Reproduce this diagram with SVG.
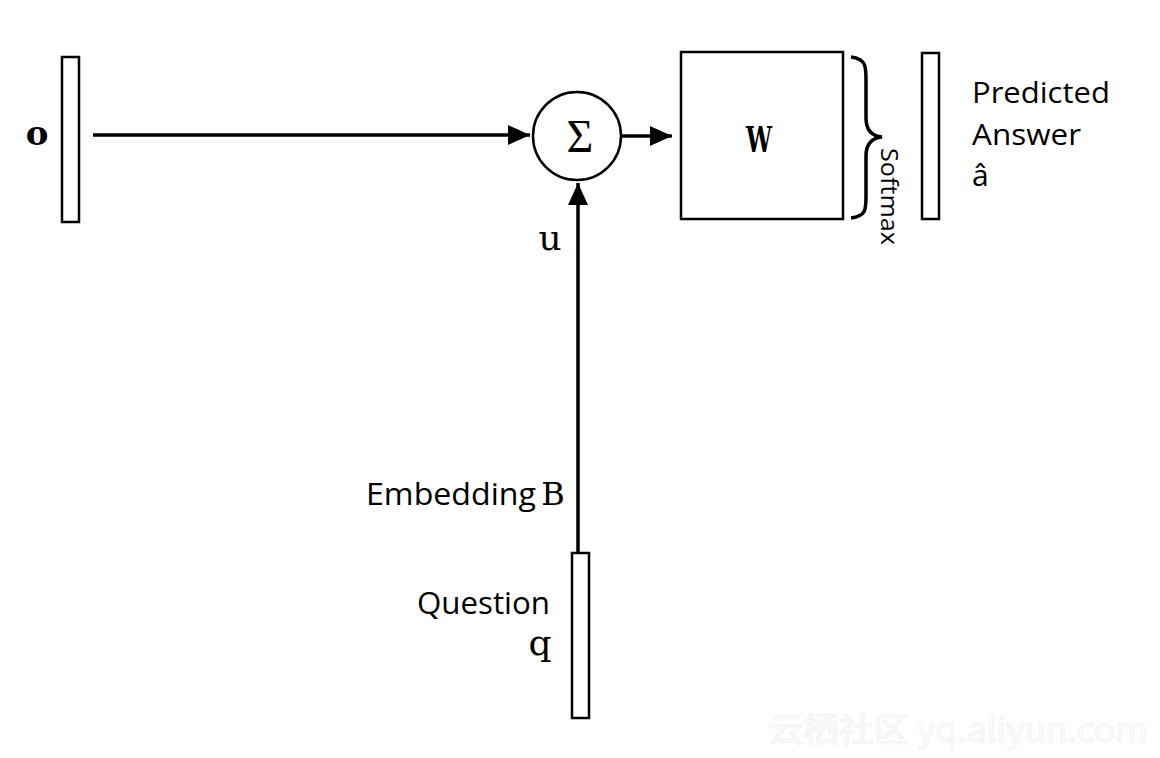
<svg xmlns="http://www.w3.org/2000/svg" width="1160" height="758" viewBox="0 0 1160 758">
<style>
.box{fill:#fff;stroke:#000;stroke-width:2.5}
.ln{fill:none;stroke:#000;stroke-width:3.5}
.sans{font-family:"Open Sans","DejaVu Sans",sans-serif;fill:#000}
.mono{font-family:"DejaVu Serif","Liberation Serif",serif;fill:#000}
</style>
<defs>
<marker id="ah" markerUnits="userSpaceOnUse" markerWidth="24" markerHeight="22" refX="22" refY="10" orient="auto">
<path d="M0,0 L22,10 L0,20 z" fill="#000"/>
</marker>
</defs>
<rect width="1160" height="758" fill="#fff"/>
<g id="connectors">
<line class="ln" x1="93" y1="135" x2="530" y2="135" marker-end="url(#ah)"/>
<line class="ln" x1="621" y1="136" x2="672" y2="136" marker-end="url(#ah)"/>
<line class="ln" x1="578" y1="552" x2="578" y2="183" marker-end="url(#ah)"/>
</g>
<g id="memory-o">
<rect class="box" x="62" y="57" width="17" height="165"/>
<text class="mono" x="37" y="145" font-size="34" font-weight="bold" text-anchor="middle">o</text>
</g>
<g id="sum">
<circle class="box" cx="577" cy="136" r="44"/>
<text x="580" y="152" font-family="Liberation Serif,serif" font-size="46" text-anchor="middle">Σ</text>
</g>
<g id="W">
<rect class="box" x="681" y="52" width="162" height="167"/>
<text class="mono" x="759" y="152" font-size="36" font-weight="bold" text-anchor="middle" textLength="26" lengthAdjust="spacingAndGlyphs">W</text>
</g>
<g id="softmax">
<path class="ln" stroke-width="3" d="M851,57 C866,59 866,66 866,80 L866,118 C866,130 872,136 882,137 C872,138 866,144 866,156 L866,196 C866,210 866,216 851,218"/>
<text class="sans" font-size="24" transform="translate(881,148) rotate(90)" textLength="97" lengthAdjust="spacingAndGlyphs">Softmax</text>
</g>
<g id="answer">
<rect class="box" x="922" y="53" width="17" height="166"/>
<text class="sans" x="972" y="103" font-size="30" textLength="138" lengthAdjust="spacingAndGlyphs">Predicted</text>
<text class="sans" x="972" y="145" font-size="30" textLength="109" lengthAdjust="spacingAndGlyphs">Answer</text>
<text class="sans" x="972" y="186" font-size="30">â</text>
</g>
<g id="u-label">
<text class="mono" x="550" y="250" font-size="36" text-anchor="middle">u</text>
</g>
<g id="embedding">
<text class="sans" x="366" y="505" font-size="31" textLength="170" lengthAdjust="spacingAndGlyphs">Embedding</text>
<text class="mono" x="553" y="505" font-size="32" text-anchor="middle">B</text>
</g>
<g id="question">
<rect class="box" x="572" y="553" width="17" height="165"/>
<text class="sans" x="417" y="614" font-size="31" textLength="133" lengthAdjust="spacingAndGlyphs">Question</text>
<text class="mono" x="540" y="655" font-size="36" text-anchor="middle">q</text>
</g>
<g id="watermark">
<text x="768" y="742" font-family="Noto Sans CJK SC,sans-serif" font-size="34" fill="#fcfcfc" stroke="#eeeeee" stroke-width="0.7" textLength="380" lengthAdjust="spacingAndGlyphs">云栖社区 yq.aliyun.com</text>
</g>
</svg>
